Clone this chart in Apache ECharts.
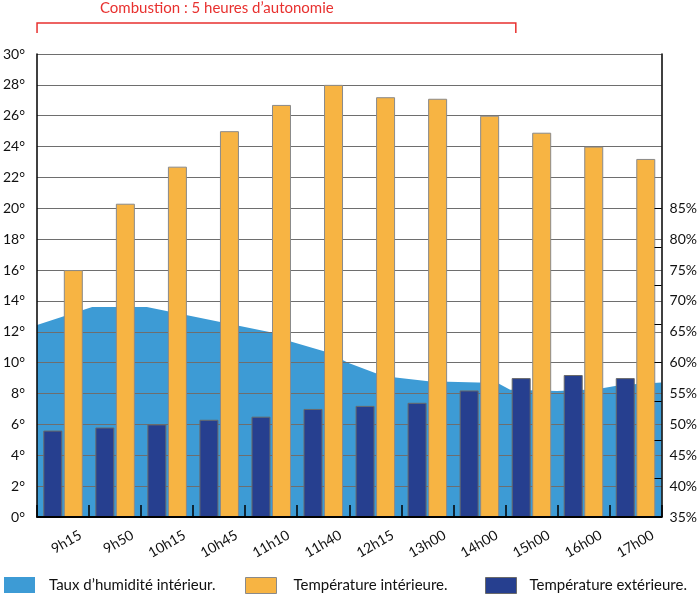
<!DOCTYPE html>
<html><head><meta charset="utf-8">
<script src="https://cdn.jsdelivr.net/npm/echarts@6/dist/echarts.min.js"></script>
<style>html,body{margin:0;padding:0;background:#fff}#c{width:700px;height:596px}</style>
</head><body><div id="c"></div>
<script>
// ---- data ----
const categories = ['9h15','9h50','10h15','10h45','11h10','11h40','12h15','13h00','14h00','15h00','16h00','17h00'];
const tempInterieure = [16.0,20.3,22.7,25.0,26.7,28.0,27.2,27.1,26.0,24.9,24.0,23.2];
const tempExterieure = [5.6,5.8,6.0,6.3,6.5,7.0,7.2,7.4,8.2,9.0,9.2,9.0];
// humidity outline: position along the time axis (in category units) and value (%)
const humiditePos = [0,1.06,2.11,4.51,4.89,5.53,6.0,6.51,6.89,7.52,8.85,9.09,9.99,10.75,11.22,12];
const humidite   = [66.1,69.0,69.0,64.9,63.4,61.8,59.9,58.3,57.6,57.0,56.7,55.6,55.4,55.7,56.4,56.8];
const humLabels = [35,40,45,50,55,60,65,70,75,80,85];
const humTicks  = [35,41.25,47.5,53.75,60,66.25,72.5,78.75,85];
const labelPos  = [1,2,3,4,5,6,7,8,9,10,11,12];
const bracketRange = [0, 9.2];
const bracketTitle = 'Combustion : 5 heures d\u2019autonomie';
const names = ['Taux d\u2019humidit\u00e9 int\u00e9rieur.','Temp\u00e9rature int\u00e9rieure.','Temp\u00e9rature ext\u00e9rieure.'];

const FONT = 'Lato';
const cLight = '#3D9BD5', cOrange = '#F7B443', cDark = '#263F8F';

const chart = echarts.init(document.getElementById('c'), null, {renderer:'canvas'});
const humData = humiditePos.map((p,i)=>[p, humidite[i]]);

const legendBase = (name, left, gap, color, border) => ({
  left: left, top: 577, padding: 0, itemWidth: 31, itemHeight: 16, icon: 'rect', selectedMode: false,
  data: [{name: name, itemStyle: {color: color, borderColor: border || color, borderWidth: border ? 1 : 0}}],
  textStyle: {fontFamily: FONT, fontSize: 15, color: '#111', padding: [0,0,0,gap]}
});

chart.setOption({
  animation: false,
  backgroundColor: '#fff',
  textStyle: {fontFamily: FONT},
  grid: {left: 34, right: 34, top: 54, bottom: 79, containLabel: false},
  legend: [
    legendBase(names[0], 4, 9, cLight),
    legendBase(names[1], 245, 12, cOrange, '#8a8a8a'),
    legendBase(names[2], 485, 8, cDark, '#6a6a6a')
  ],
  xAxis: [
    {type: 'category', data: categories, position: 'bottom', z: 3,
     axisLine: {lineStyle: {color: '#000', width: 2}},
     axisTick: {show: true, inside: true, length: 12, lineStyle: {color: '#000', width: 1.5}},
     axisLabel: {show: false}, splitLine: {show: false}},
    {type: 'value', min: 0, max: 12, position: 'bottom', z: 3,
     axisLine: {show: false}, axisTick: {show: false}, splitLine: {show: false},
     axisLabel: {customValues: labelPos, rotate: 30, margin: 12, fontSize: 14, color: '#111', fontFamily: FONT,
       padding: [0, 10, 0, 0],
       formatter: v => categories[Math.round(v) - 1] || ''}}
  ],
  yAxis: [
    {type: 'value', min: 0, max: 30, interval: 2, position: 'left', z: 1,
     axisLine: {show: true, lineStyle: {color: '#000', width: 1.5}},
     axisTick: {show: false},
     axisLabel: {formatter: '{value}\u00b0', margin: 12, fontSize: 14, color: '#111', fontFamily: FONT},
     splitLine: {show: true, lineStyle: {color: '#6e6e6e', width: 1.2}}},
    {type: 'value', min: 35, max: 110, interval: 5, position: 'right', z: 3,
     axisLine: {show: true, lineStyle: {color: '#000', width: 1.5}},
     axisTick: {show: true, inside: true, length: 7, customValues: humTicks, lineStyle: {color: '#000', width: 1}},
     axisLabel: {customValues: humLabels, formatter: '{value}%', margin: 8, fontSize: 14, color: '#111', fontFamily: FONT},
     splitLine: {show: false}}
  ],
  series: [
    {name: names[0], type: 'line', xAxisIndex: 1, yAxisIndex: 1, data: humData, z: 0,
     symbol: 'none', smooth: false, itemStyle: {color: cLight},
     lineStyle: {width: 0, color: cLight}, areaStyle: {color: cLight, opacity: 1, origin: 'start'}},
    {name: names[2], type: 'bar', xAxisIndex: 0, yAxisIndex: 0, data: tempExterieure, barWidth: 19, barGap: '8%',
     itemStyle: {color: cDark, borderColor: '#6a6a6a', borderWidth: 1}},
    {name: names[1], type: 'bar', xAxisIndex: 0, yAxisIndex: 0, data: tempInterieure, barWidth: 19, barGap: '8%',
     itemStyle: {color: cOrange, borderColor: '#8a8a8a', borderWidth: 1}}
  ]
});

// bracket annotation positioned via the time axis scale
const bx0 = chart.convertToPixel({xAxisIndex: 1}, bracketRange[0]);
const bx1 = chart.convertToPixel({xAxisIndex: 1}, bracketRange[1]);
chart.setOption({
  graphic: [
    {type: 'polyline', shape: {points: [[bx0, 33], [bx0, 23], [bx1, 23], [bx1, 33]]},
     style: {stroke: '#E8312F', lineWidth: 1.5, fill: null}},
    {type: 'text', left: 100, top: 1,
     style: {text: bracketTitle, fill: '#E8312F', fontSize: 15, fontFamily: FONT}}
  ]
});
</script></body></html>
